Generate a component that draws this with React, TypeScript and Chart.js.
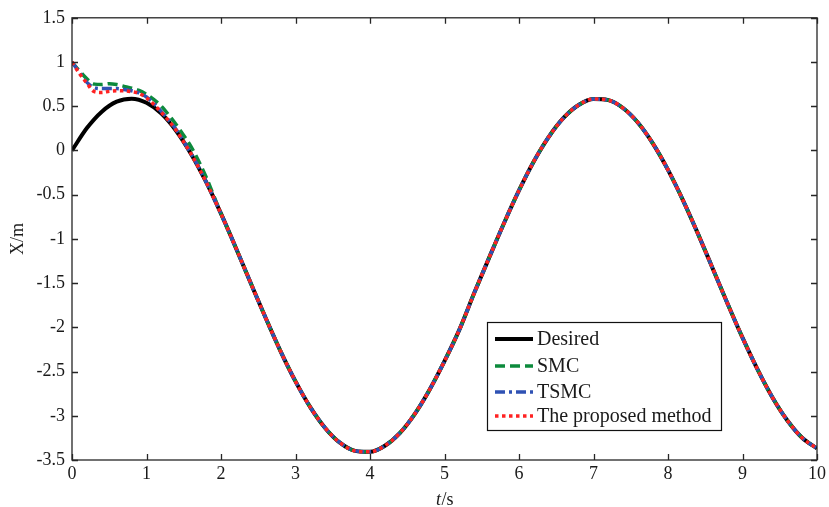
import React, { useEffect, useRef } from "react";
import { Chart, registerables } from "chart.js";

Chart.register(...registerables);

// ---- data ----
const tDesired = [
  0, 0.2, 0.4, 0.6, 0.8, 1.0, 1.2, 1.4, 1.6, 1.8, 2.0, 2.2, 2.4, 2.6, 2.8, 3.0, 3.2, 3.4, 3.6, 3.8,
  4.0, 4.2, 4.4, 4.6, 4.8, 5.0, 5.2, 5.4, 5.6, 5.8, 6.0, 6.2, 6.4, 6.6, 6.8, 7.0, 7.2, 7.4, 7.6, 7.8,
  8.0, 8.2, 8.4, 8.6, 8.8, 9.0, 9.2, 9.4, 9.6, 9.8, 10.0,
];
const xDesired = [
  0.0, 0.253, 0.439, 0.552, 0.586, 0.54, 0.417, 0.22, -0.042, -0.356, -0.715, -1.102, -1.501, -1.895,
  -2.271, -2.611, -2.905, -3.14, -3.307, -3.397, -3.408, -3.339, -3.195, -2.98, -2.705, -2.382, -2.026,
  -1.61, -1.211, -0.82, -0.452, -0.122, 0.154, 0.37, 0.514, 0.581, 0.569, 0.477, 0.311, 0.075, -0.22,
  -0.561, -0.938, -1.334, -1.733, -2.117, -2.473, -2.79, -3.05, -3.248, -3.369,
];

// transient part of the controllers (afterwards they follow the desired trajectory)
const tTransient = [0, 0.1, 0.2, 0.3, 0.4, 0.5, 0.6, 0.7, 0.8, 0.9, 1.0, 1.1, 1.2, 1.3, 1.4, 1.5, 1.6, 1.7, 1.8];
const xSMC = [1.0, 0.9, 0.81, 0.75, 0.745, 0.755, 0.745, 0.725, 0.705, 0.68, 0.635, 0.575, 0.5, 0.4, 0.29, 0.17, 0.04, -0.12, -0.3];
const xTSMC = [1.0, 0.88, 0.77, 0.71, 0.7, 0.7, 0.7, 0.69, 0.675, 0.65, 0.605, 0.53, 0.44, 0.34, 0.235, 0.1, -0.04, -0.19, -0.355];
const xProposed = [1.0, 0.87, 0.76, 0.665, 0.655, 0.668, 0.675, 0.675, 0.665, 0.645, 0.595, 0.52, 0.43, 0.335, 0.225, 0.095, -0.042, -0.195, -0.356];
const mergeFrom = 2.0;

const xTicksMin = 0, xTicksMax = 10, xStep = 1;
const yTicksMin = -3.5, yTicksMax = 1.5, yStep = 0.5;

const seriesLabels = ["Desired", "SMC", "TSMC", "The proposed method"];

const FONT = '"Liberation Serif", "Times New Roman", serif';
const AXIS_COLOR = "#262626";

function buildSeries(ts: number[], xs: number[]) {
  const pts = ts.map((t, i) => ({ x: t, y: xs[i] }));
  tDesired.forEach((t, i) => {
    if (t >= mergeFrom) pts.push({ x: t, y: xDesired[i] });
  });
  return pts;
}

const fmt = (v: any) => {
  const n = Math.round(Number(v) * 100) / 100;
  return String(n);
};

const framePlugin = {
  id: "frame",
  afterDraw(chart: any) {
    const { ctx, chartArea, scales } = chart;
    const { left, right, top, bottom } = chartArea;
    const xs = scales.x;
    const ys = scales.y;
    ctx.save();
    ctx.strokeStyle = AXIS_COLOR;
    ctx.lineWidth = 1.3;
    ctx.strokeRect(left, top, right - left, bottom - top);
    const tl = 6;
    ctx.beginPath();
    xs.ticks.forEach((tk: any) => {
      const px = Math.round(xs.getPixelForValue(tk.value)) + 0.5;
      ctx.moveTo(px, bottom);
      ctx.lineTo(px, bottom - tl);
      ctx.moveTo(px, top);
      ctx.lineTo(px, top + tl);
    });
    ys.ticks.forEach((tk: any) => {
      const py = Math.round(ys.getPixelForValue(tk.value)) + 0.5;
      ctx.moveTo(left, py);
      ctx.lineTo(left + tl, py);
      ctx.moveTo(right, py);
      ctx.lineTo(right - tl, py);
    });
    ctx.stroke();

    // x axis title: italic t + "/s"
    ctx.fillStyle = "#1a1a1a";
    ctx.textBaseline = "alphabetic";
    ctx.textAlign = "left";
    const italic = `italic 18px ${FONT}`;
    const normal = `18px ${FONT}`;
    ctx.font = italic;
    const w1 = ctx.measureText("t").width;
    ctx.font = normal;
    const w2 = ctx.measureText("/s").width;
    const cx = (left + right) / 2;
    const by = bottom + 45;
    const sx = cx - (w1 + w2) / 2;
    ctx.font = italic;
    ctx.fillText("t", sx, by);
    ctx.font = normal;
    ctx.fillText("/s", sx + w1 + 0.5, by);

    // legend box
    const lx = 487, ly = 322, lw = 234, lh = 108;
    ctx.fillStyle = "#ffffff";
    ctx.fillRect(lx, ly, lw, lh);
    ctx.strokeStyle = "#111";
    ctx.lineWidth = 1.2;
    ctx.strokeRect(lx + 0.5, ly + 0.5, lw, lh);
    const rowY = [339, 366, 392, 416];
    chart.data.datasets.forEach((ds: any, i: number) => {
      const y = rowY[i];
      ctx.save();
      ctx.strokeStyle = ds.borderColor;
      ctx.lineWidth = ds.borderWidth;
      ctx.setLineDash(ds.borderDash || []);
      ctx.beginPath();
      ctx.moveTo(495, y);
      ctx.lineTo(533, y);
      ctx.stroke();
      ctx.restore();
      ctx.fillStyle = "#1a1a1a";
      ctx.font = `20px ${FONT}`;
      ctx.textBaseline = "middle";
      ctx.fillText(ds.label, 537, y + 1);
    });
    ctx.restore();
  },
};

export default function App() {
  const ref = useRef<HTMLCanvasElement | null>(null);
  useEffect(() => {
    document.body.style.margin = "0";
    if (!ref.current) return;
    const chart = new Chart(ref.current, {
      type: "line",
      data: {
        datasets: [
          {
            label: seriesLabels[0],
            data: tDesired.map((t, i) => ({ x: t, y: xDesired[i] })),
            borderColor: "#000000",
            borderWidth: 4,
            pointRadius: 0,
            cubicInterpolationMode: "monotone",
            borderDash: [],
            order: 4,
          },
          {
            label: seriesLabels[1],
            data: buildSeries(tTransient, xSMC),
            borderColor: "#0c8a3c",
            borderWidth: 3.5,
            pointRadius: 0,
            cubicInterpolationMode: "monotone",
            borderDash: [10, 5],
            order: 3,
          },
          {
            label: seriesLabels[2],
            data: buildSeries(tTransient, xTSMC),
            borderColor: "#2f52b4",
            borderWidth: 3.5,
            pointRadius: 0,
            cubicInterpolationMode: "monotone",
            borderDash: [10, 4, 3, 4],
            order: 2,
          },
          {
            label: seriesLabels[3],
            data: buildSeries(tTransient, xProposed),
            borderColor: "#ff2222",
            borderWidth: 3.5,
            pointRadius: 0,
            cubicInterpolationMode: "monotone",
            borderDash: [3.5, 3.5],
            order: 1,
          },
        ],
      },
      options: {
        animation: false,
        responsive: false,
        maintainAspectRatio: false,
        layout: { padding: { top: 16, right: 10, left: 0, bottom: 0 } },
        plugins: { legend: { display: false }, tooltip: { enabled: false } },
        scales: {
          x: {
            type: "linear",
            min: xTicksMin,
            max: xTicksMax,
            ticks: { stepSize: xStep, padding: 3, color: "#1a1a1a", font: { family: FONT, size: 18 }, maxRotation: 0, callback: fmt },
            grid: { display: false, drawTicks: false },
            border: { display: false },
            afterFit: (s: any) => {
              s.height = 47;
            },
          },
          y: {
            type: "linear",
            min: yTicksMin,
            max: yTicksMax,
            ticks: { stepSize: yStep, padding: 7, color: "#1a1a1a", font: { family: FONT, size: 18 }, callback: fmt },
            grid: { display: false, drawTicks: false },
            border: { display: false },
            title: {
              display: true,
              text: "X/m",
              color: "#1a1a1a",
              font: { family: FONT, size: 18 },
              padding: { top: 7, bottom: 0 },
            },
            afterFit: (s: any) => {
              s.width = 72;
            },
          },
        },
      } as any,
      plugins: [framePlugin],
    });
    return () => chart.destroy();
  }, []);
  return (
    <div style={{ width: 829, height: 507 }}>
      <canvas ref={ref} width={829} height={507} style={{ display: "block", width: 829, height: 507 }} />
    </div>
  );
}
